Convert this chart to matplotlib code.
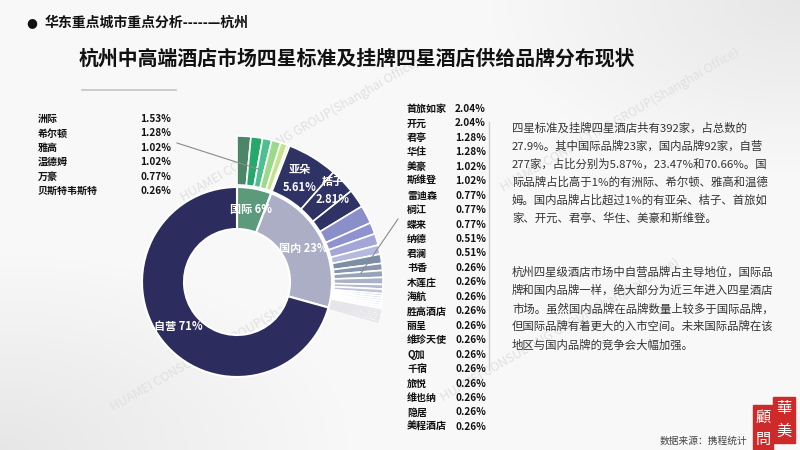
import numpy as np
import matplotlib.pyplot as plt
from matplotlib.patches import Rectangle

plt.rcParams['font.family'] = ['Noto Sans CJK SC', 'DejaVu Sans']

# data
seg_names = ['国际', '国内', '自营']
seg_vals = [5.87, 23.47, 70.66]

intl_names = ['洲际', '希尔顿', '雅高', '温德姆', '万豪', '贝斯特韦斯特']
intl_vals = [1.53, 1.28, 1.02, 1.02, 0.77, 0.26]

dom_names = ['亚朵', '桔子', '首旅如家', '开元', '君亭', '华住', '美豪', '斯维登',
             '雷迪森', '榈江', '蝶来', '纳德', '君澜', '书香', '木莲庄', '海航',
             '胜高酒店', '丽呈', '维珍天使', 'Q加', '千宿', '旅悦', '维也纳', '隐居', '美程酒店']
dom_vals = [5.61, 2.81, 2.04, 2.04, 1.28, 1.28, 1.02, 1.02,
            0.77, 0.77, 0.77, 0.51, 0.51, 0.26, 0.26, 0.26,
            0.26, 0.26, 0.26, 0.26, 0.26, 0.26, 0.26, 0.26, 0.26]

title = '杭州中高端酒店市场四星标准及挂牌四星酒店供给品牌分布现状'
header = '华东重点城市重点分析-----—杭州'
para1 = ['四星标准及挂牌四星酒店共有392家，占总数的',
         '27.9%。其中国际品牌23家，国内品牌92家，自营',
         '277家，占比分别为5.87%，23.47%和70.66%。国',
         '际品牌占比高于1%的有洲际、希尔顿、雅高和温德',
         '姆。国内品牌占比超过1%的有亚朵、桔子、首旅如',
         '家、开元、君亭、华住、美豪和斯维登。']
para2 = ['杭州四星级酒店市场中自营品牌占主导地位，国际品',
         '牌和国内品牌一样，绝大部分为近三年进入四星酒店',
         '市场。虽然国内品牌在品牌数量上较多于国际品牌，',
         '但国际品牌有着更大的入市空间。未来国际品牌在该',
         '地区与国内品牌的竞争会大幅加强。']

seg_colors = ['#5b9a7a', '#abaec5', '#2c2d5e']
intl_colors = ['#4b8669', '#27a86b', '#4cc08e', '#9dd98b', '#c4e38b', '#d9ed9e']
dom_colors = ['#2e3264', '#2e3264', '#2e3264', '#8a8ec9', '#8e93cf', '#a3a6d6',
              '#b5b8df', '#7c8da6', '#8796ae', '#97a3b8', '#a9b2c6', '#b5b9d0',
              '#c0c3da', '#c6c8dc', '#cfd1e2', '#d8d9e7', '#e2e3ee', '#e9eaf2',
              '#eff0f5', '#f3f3f7', '#f7f7fa', '#fafafc', '#fcfcfd', '#fdfdfe', '#ffffff']

fig = plt.figure(figsize=(8, 4.5), dpi=100)
ax = fig.add_axes([0, 0, 1, 1])

# soft background, darker toward top-left and bottom-right
gx, gy = np.meshgrid(np.linspace(0, 1, 200), np.linspace(0, 1, 120))
shade = 0.975 - 0.07 * np.clip(1 - np.hypot(gx, gy) / 0.45, 0, 1) \
        - 0.07 * np.clip(1 - np.hypot(1 - gx, 1 - gy) / 0.4, 0, 1)
ax.imshow(np.dstack([shade] * 3), extent=(0, 800, 450, 0), zorder=0, aspect='auto')

H = 450
cx, cy = 237, H - 282

# faint watermarks
for wx, wy in [(300, 130), (620, 120), (230, 340), (560, 330)]:
    ax.text(wx, H - wy, 'HUAMEI CONSULTING GROUP(Shanghai Office)', rotation=30,
            fontsize=9, color='#e0e0e0', ha='center', va='center', zorder=1)

# inner ring
ax.pie(seg_vals, radius=95, center=(cx, cy), colors=seg_colors, startangle=90,
       counterclock=False, wedgeprops=dict(width=42, edgecolor='white', linewidth=1.5))

# outer ring: brands, rest of circle left empty
outer_vals = intl_vals + dom_vals + [seg_vals[2]]
outer_colors = intl_colors + dom_colors + ['none']
wedges, _ = ax.pie(outer_vals, radius=146, center=(cx, cy), colors=outer_colors, startangle=90,
                   counterclock=False, wedgeprops=dict(width=49, edgecolor='white', linewidth=1.2))
wedges[-1].set_visible(False)
for w in wedges[-6:-1]:
    w.set_edgecolor('#e6e6ea')

# inner labels
tot = sum(seg_vals)
start = 0
for n, v in zip(seg_names, seg_vals):
    th = np.deg2rad((start + v / 2) / tot * 360)
    ax.text(cx + 74 * np.sin(th), cy + 74 * np.cos(th), f'{n} {v:.0f}%', color='white',
            fontsize=8, fontweight='bold', ha='center', va='center', zorder=5)
    start += v

# outer labels for the two biggest domestic brands
otot = sum(outer_vals)
start = sum(intl_vals)
label_r = [121, 132]
for n, v, r in zip(dom_names[:2], dom_vals[:2], label_r):
    th = np.deg2rad((start + v / 2) / otot * 360)
    ax.text(cx + r * np.sin(th), cy + r * np.cos(th), f'{n}\n{v:.2f}%', color='white',
            fontsize=8, fontweight='bold', ha='center', va='center', linespacing=1.5, zorder=5)
    start += v

# leader lines
ax.plot([177, 258], [H - 143, H - 169], color='#8a8a8a', lw=0.8, zorder=6)
ax.plot([398, 361], [H - 219, H - 273], color='#8a8a8a', lw=0.8, zorder=6)
ax.plot([489, 489], [H - 122, H - 370], color='#cfcfcf', lw=1, zorder=2)

# left list
for i, (n, v) in enumerate(zip(intl_names, intl_vals)):
    y = H - (119 + i * 14.4)
    ax.text(38, y, n, fontsize=7.2, fontweight='bold', color='#111', va='center')
    ax.text(171, y, f'{v:.2f}%', fontsize=7.2, fontweight='bold', color='#111', va='center', ha='right')

# right list
for i, (n, v) in enumerate(zip(dom_names[2:], dom_vals[2:])):
    y = H - (109 + i * 14.45)
    ax.text(407, y, n, fontsize=7.2, fontweight='bold', color='#111', va='center')
    ax.text(486, y, f'{v:.2f}%', fontsize=7.2, fontweight='bold', color='#111', va='center', ha='right')

# header and title
ax.text(32, H - 23, '●', fontsize=9, color='#111', va='center', ha='center', family='DejaVu Sans')
ax.text(45, H - 23, header, fontsize=10, fontweight='bold', color='#111', va='center')
ax.text(79, H - 58, title, fontsize=14.3, fontweight='bold', color='#111', va='center')
ax.plot([82, 176], [H - 90, H - 90], color='#c4c4c4', lw=1.2)

# paragraphs
for i, line in enumerate(para1):
    ax.text(512, H - (128 + i * 18), line, fontsize=8.2, color='#333', va='center')
for i, line in enumerate(para2):
    ax.text(512, H - (272 + i * 18.2), line, fontsize=8.2, color='#333', va='center')

ax.text(660, H - 441, '数据来源：携程统计', fontsize=7, color='#444', va='center')

# logo
ax.add_patch(Rectangle((753, H - 450), 20, 45, color='#cf2a2a', zorder=5))
ax.add_patch(Rectangle((773, H - 443), 22, 46, color='#cf2a2a', zorder=5))
for ch, lx, ly in [('顧', 763, 417), ('問', 763, 439), ('華', 784, 409), ('美', 784, 431)]:
    ax.text(lx, H - ly, ch, fontsize=11, color='white', ha='center', va='center',
            family=['Noto Sans CJK TC', 'DejaVu Sans'], zorder=6)

ax.set_xlim(0, 800)
ax.set_ylim(0, 450)
ax.set_aspect('auto')
ax.axis('off')

fig.savefig('out.png', dpi=100)
